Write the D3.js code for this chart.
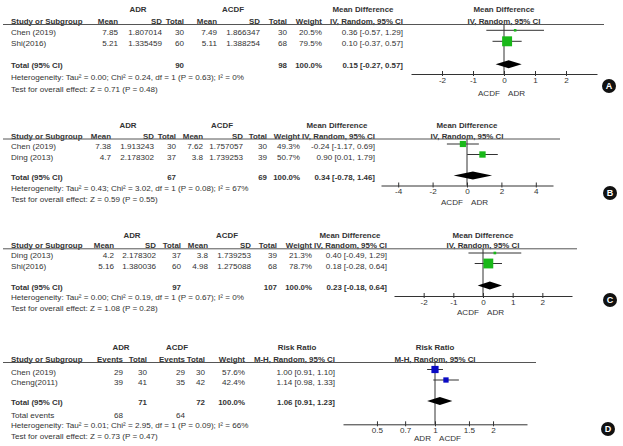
<!DOCTYPE html>
<html>
<head>
<meta charset="utf-8">
<script src="https://cdn.jsdelivr.net/npm/d3@7"></script>
<style>
  body { margin: 0; background: #fff; }
  svg text { font-family: 'Liberation Sans', Arial, sans-serif; font-size: 8.1px; fill: #333; }
  svg text.b { font-weight: bold; font-size: 7.9px; }
  svg text.badge { fill: #fff; font-size: 9px; font-weight: bold; }
</style>
</head>
<body>
<svg id="chart" width="623" height="446"></svg>
<script>
// ---- Panel A: mean difference ----
const studiesA = ['Chen (2019)', 'Shi(2016)'];
const adrMeanA = [7.85, 5.21];
const adrSdA = [1.807014, 1.335459];
const adrNA = [30, 60];
const acdfMeanA = [7.49, 5.11];
const acdfSdA = [1.866347, 1.388254];
const acdfNA = [30, 68];
const weightA = [20.5, 79.5];
const estA = [0.36, 0.10];
const loA = [-0.57, -0.37];
const hiA = [1.29, 0.57];
const totalsA = [90, 98];
const pooledA = [0.15, -0.27, 0.57];
const hetA = 'Heterogeneity: Tau² = 0.00; Chi² = 0.24, df = 1 (P = 0.63); I² = 0%';
const testA = 'Test for overall effect: Z = 0.71 (P = 0.48)';
const ticksA = [-2, -1, 0, 1, 2];

// ---- Panel B: mean difference ----
const studiesB = ['Chen (2019)', 'Ding (2013)'];
const adrMeanB = [7.38, 4.7];
const adrSdB = [1.913243, 2.178302];
const adrNB = [30, 37];
const acdfMeanB = [7.62, 3.8];
const acdfSdB = [1.757057, 1.739253];
const acdfNB = [30, 39];
const weightB = [49.3, 50.7];
const estB = [-0.24, 0.90];
const loB = [-1.17, 0.01];
const hiB = [0.69, 1.79];
const totalsB = [67, 69];
const pooledB = [0.34, -0.78, 1.46];
const hetB = 'Heterogeneity: Tau² = 0.43; Chi² = 3.02, df = 1 (P = 0.08); I² = 67%';
const testB = 'Test for overall effect: Z = 0.59 (P = 0.55)';
const ticksB = [-4, -2, 0, 2, 4];

// ---- Panel C: mean difference ----
const studiesC = ['Ding (2013)', 'Shi(2016)'];
const adrMeanC = [4.2, 5.16];
const adrSdC = [2.178302, 1.380036];
const adrNC = [37, 60];
const acdfMeanC = [3.8, 4.98];
const acdfSdC = [1.739253, 1.275088];
const acdfNC = [39, 68];
const weightC = [21.3, 78.7];
const estC = [0.40, 0.18];
const loC = [-0.49, -0.28];
const hiC = [1.29, 0.64];
const totalsC = [97, 107];
const pooledC = [0.23, -0.18, 0.64];
const hetC = 'Heterogeneity: Tau² = 0.00; Chi² = 0.19, df = 1 (P = 0.67); I² = 0%';
const testC = 'Test for overall effect: Z = 1.08 (P = 0.28)';
const ticksC = [-2, -1, 0, 1, 2];

// ---- Panel D: risk ratio ----
const studiesD = ['Chen (2019)', 'Cheng(2011)'];
const adrEventsD = [29, 39];
const adrND = [30, 41];
const acdfEventsD = [29, 35];
const acdfND = [30, 42];
const weightD = [57.6, 42.4];
const estD = [1.00, 1.14];
const loD = [0.91, 0.98];
const hiD = [1.10, 1.33];
const totalsD = [71, 72];
const totalEventsD = [68, 64];
const pooledD = [1.06, 0.91, 1.23];
const hetD = 'Heterogeneity: Tau² = 0.01; Chi² = 2.95, df = 1 (P = 0.09); I² = 66%';
const testD = 'Test for overall effect: Z = 0.73 (P = 0.47)';
const ticksD = [0.5, 0.7, 1, 1.5, 2];

const mdHeads = ['Mean', 'SD', 'Total', 'Mean', 'SD', 'Total', 'Weight', 'IV, Random, 95% CI'];
const rrHeads = ['Events', 'Total', 'Events', 'Total', 'Weight', 'M-H, Random, 95% CI'];

const svg = d3.select('#chart');
const green = '#19b819';
const blue = '#0a0ac4';
const ink = '#333';

const ci = (e, l, h) => `${e.toFixed(2)} [${l.toFixed(2)}, ${h.toFixed(2)}]`;
const pct = w => w.toFixed(1) + '%';

// size of study squares follows the weight
const boxSize = d3.scaleLinear().domain([0, 100]).range([0, 12.5]);

function label(g, x, y, str, anchor, bold) {
  return g.append('text')
    .attr('x', x)
    .attr('y', y + 3)
    .attr('text-anchor', anchor || 'start')
    .classed('b', !!bold)
    .text(str);
}

function drawPanel(p) {
  const g = svg.append('g');
  const L = p.layout;

  // group headers over the table and the plot
  p.groups.forEach((name, i) => label(g, L.groupX[i], L.groupY, name, 'middle', true));
  label(g, L.x0, L.groupY, p.plotTitle, 'middle', true);

  // column headers
  label(g, 11, L.headY, 'Study or Subgroup', 'start', true);
  p.heads.forEach((h, i) => label(g, L.cols[i], L.headY, h, 'end', true));
  label(g, L.x0, L.headY, p.heads[p.heads.length - 1], 'middle', true);

  g.append('line')
    .attr('x1', 3).attr('x2', L.lineEnd)
    .attr('y1', L.lineY).attr('y2', L.lineY)
    .attr('stroke', '#555').attr('stroke-width', 1);

  // study rows
  p.studies.forEach((s, i) => {
    label(g, 11, L.rowY[i], s);
    p.cells[i].forEach((c, j) => label(g, L.cols[j], L.rowY[i], c, 'end'));
  });

  // total row
  label(g, 11, L.totalY, 'Total (95% CI)', 'start', true);
  p.totals.forEach((t, i) => label(g, L.cols[p.totalCols[i]], L.totalY, t, 'end', true));
  label(g, L.cols[p.heads.length - 2], L.totalY, '100.0%', 'end', true);
  label(g, L.cols[p.heads.length - 1], L.totalY, ci(...p.pooled), 'end', true);

  if (p.events) {
    label(g, 11, L.eventsY, 'Total events');
    p.events.forEach((t, i) => label(g, L.cols[p.eventCols[i]], L.eventsY, t, 'end'));
  }

  label(g, 11, L.hetY, p.het);
  label(g, 11, L.testY, p.test);

  // forest plot
  const x = p.log
    ? d3.scaleLog().domain(L.domain).range(L.range)
    : d3.scaleLinear().domain(L.domain).range(L.range);
  const nullValue = p.log ? 1 : 0;

  g.append('line')
    .attr('x1', x(nullValue)).attr('x2', x(nullValue))
    .attr('y1', L.lineY).attr('y2', L.axisY)
    .attr('stroke', ink);

  p.studies.forEach((s, i) => {
    const y = L.rowY[i] - 2;
    g.append('line')
      .attr('x1', x(p.lo[i])).attr('x2', x(p.hi[i]))
      .attr('y1', y).attr('y2', y)
      .attr('stroke', ink);
    const sz = boxSize(p.weight[i]);
    g.append('rect')
      .attr('x', x(p.est[i]) - sz / 2).attr('y', y - sz / 2)
      .attr('width', sz).attr('height', sz)
      .attr('fill', p.color);
  });

  const dy = L.totalY - 1;
  const [pe, pl, ph] = p.pooled;
  g.append('polygon')
    .attr('points', [[x(pl), dy], [x(pe), dy - 4], [x(ph), dy], [x(pe), dy + 4]].join(' '))
    .attr('fill', '#000');

  const axis = d3.axisBottom(x)
    .tickValues(p.ticks)
    .tickFormat(d => String(d))
    .tickSizeOuter(0)
    .tickSizeInner(-3)
    .tickPadding(3);

  const ax = g.append('g')
    .attr('transform', `translate(0,${L.axisY})`)
    .call(axis);
  ax.select('.domain').attr('stroke', ink);
  ax.selectAll('.tick line').attr('stroke', ink).attr('y1', 2).attr('y2', -3);
  ax.selectAll('.tick text')
    .attr('fill', ink)
    .style('font-family', "'Liberation Sans', Arial, sans-serif")
    .style('font-size', '8.1px');

  label(g, x(nullValue) - 4, L.dirY, p.dir[0], 'end');
  label(g, x(nullValue) + 4, L.dirY, p.dir[1], 'start');

  // panel badge
  g.append('circle')
    .attr('cx', L.badge[0]).attr('cy', L.badge[1]).attr('r', 7)
    .attr('fill', '#111');
  g.append('text')
    .attr('class', 'badge')
    .attr('x', L.badge[0]).attr('y', L.badge[1] + 3.2)
    .attr('text-anchor', 'middle')
    .text(p.letter);
}

function mdCells(mean1, sd1, n1, mean2, sd2, n2, w, e, l, h) {
  return mean1.map((m, i) => [m, sd1[i], n1[i], mean2[i], sd2[i], n2[i], pct(w[i]), ci(e[i], l[i], h[i])]);
}

drawPanel({
  letter: 'A', studies: studiesA, heads: mdHeads, groups: ['ADR', 'ACDF', 'Mean Difference'],
  plotTitle: 'Mean Difference', color: green,
  cells: mdCells(adrMeanA, adrSdA, adrNA, acdfMeanA, acdfSdA, acdfNA, weightA, estA, loA, hiA),
  weight: weightA, est: estA, lo: loA, hi: hiA,
  totals: totalsA, totalCols: [2, 5], pooled: pooledA, het: hetA, test: testA,
  ticks: ticksA, dir: ['ACDF', 'ADR'],
  layout: {
    groupY: 9, headY: 21, lineY: 24.5, rowY: [32.3, 43.3], totalY: 65.3, hetY: 77.3, testY: 88.7,
    axisY: 74, dirY: 93, cols: [118, 162, 184, 217, 260, 287, 322, 403], groupX: [138, 233, 363],
    x0: 504, domain: [-3, 3], range: [411, 597], lineEnd: 604, badge: [609, 86]
  }
});

drawPanel({
  letter: 'B', studies: studiesB, heads: mdHeads, groups: ['ADR', 'ACDF', 'Mean Difference'],
  plotTitle: 'Mean Difference', color: green,
  cells: mdCells(adrMeanB, adrSdB, adrNB, acdfMeanB, acdfSdB, acdfNB, weightB, estB, loB, hiB),
  weight: weightB, est: estB, lo: loB, hi: hiB,
  totals: totalsB, totalCols: [2, 5], pooled: pooledB, het: hetB, test: testB,
  ticks: ticksB, dir: ['ACDF', 'ADR'],
  layout: {
    groupY: 125, headY: 135.5, lineY: 139, rowY: [146, 156.5], totalY: 176.5, hetY: 187.5, testY: 198.5,
    axisY: 185.5, dirY: 201.5, cols: [111, 154, 176, 203, 243, 267, 300, 375], groupX: [128, 222, 337],
    x0: 467, domain: [-5, 5], range: [381, 553], lineEnd: 560, badge: [610, 193]
  }
});

drawPanel({
  letter: 'C', studies: studiesC, heads: mdHeads, groups: ['ADR', 'ACDF', 'Mean Difference'],
  plotTitle: 'Mean Difference', color: green,
  cells: mdCells(adrMeanC, adrSdC, adrNC, acdfMeanC, acdfSdC, acdfNC, weightC, estC, loC, hiC),
  weight: weightC, est: estC, lo: loC, hi: hiC,
  totals: totalsC, totalCols: [2, 5], pooled: pooledC, het: hetC, test: testC,
  ticks: ticksC, dir: ['ACDF', 'ADR'],
  layout: {
    groupY: 235, headY: 245, lineY: 248.8, rowY: [255, 265.5], totalY: 286.5, hetY: 297.3, testY: 308.3,
    axisY: 296, dirY: 311.7, cols: [114, 156, 181, 208, 251, 277, 312, 387], groupX: [132, 227, 350],
    x0: 483, domain: [-3, 3], range: [394, 572], lineEnd: 577, badge: [610, 300]
  }
});

drawPanel({
  letter: 'D', studies: studiesD, heads: rrHeads, groups: ['ADR', 'ACDF', 'Risk Ratio'],
  plotTitle: 'Risk Ratio', color: blue, log: true,
  cells: studiesD.map((s, i) => [adrEventsD[i], adrND[i], acdfEventsD[i], acdfND[i],
    pct(weightD[i]), ci(estD[i], loD[i], hiD[i])]),
  weight: weightD, est: estD, lo: loD, hi: hiD,
  totals: totalsD, totalCols: [1, 3], pooled: pooledD, het: hetD, test: testD,
  events: totalEventsD, eventCols: [0, 2],
  ticks: ticksD, dir: ['ADR', 'ACDF'],
  layout: {
    groupY: 346.7, headY: 359, lineY: 362.5, rowY: [371.5, 382], totalY: 402, eventsY: 414.7,
    hetY: 425.3, testY: 436, axisY: 424.3, dirY: 438.3,
    cols: [123, 147, 185, 205, 245, 335], groupX: [121, 177, 297],
    x0: 435, domain: [1 / 3, 3], range: [343, 527], lineEnd: 536, badge: [608, 429]
  }
});
</script>
</body>
</html>
